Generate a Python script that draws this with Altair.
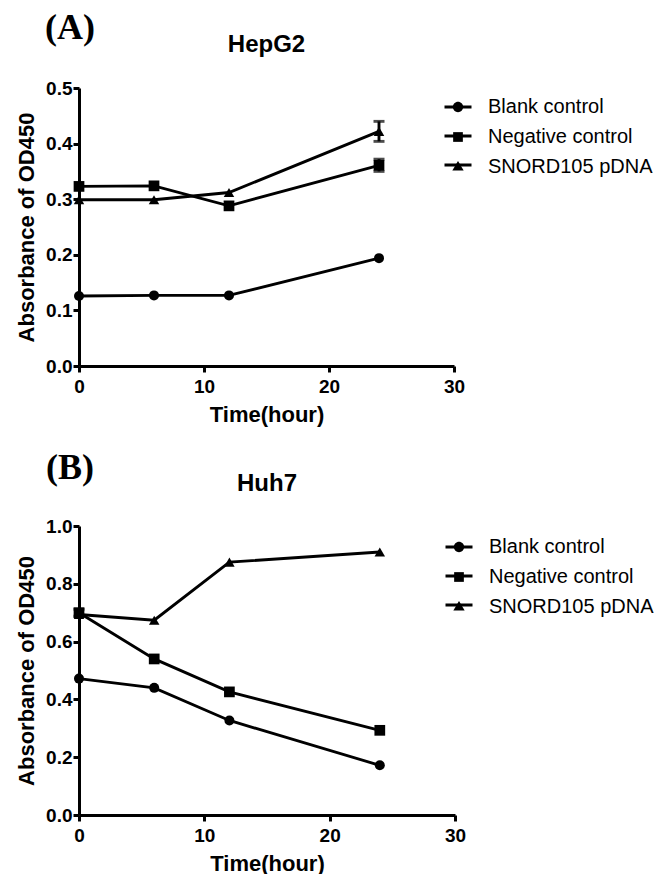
import altair as alt
import pandas as pd

times = [0, 6, 12, 24]
series = ["Blank control", "Negative control", "SNORD105 pDNA"]

# Panel A: HepG2
hep_blank = [0.126, 0.127, 0.127, 0.194]
hep_neg = [0.323, 0.324, 0.288, 0.361]
hep_snord = [0.299, 0.299, 0.312, 0.422]
hep_blank_err = [0.0, 0.0, 0.0, 0.0]
hep_neg_err = [0.0, 0.0, 0.0, 0.011]
hep_snord_err = [0.0, 0.0, 0.0, 0.018]

# Panel B: Huh7
huh_blank = [0.472, 0.440, 0.327, 0.172]
huh_neg = [0.700, 0.540, 0.426, 0.293]
huh_snord = [0.694, 0.674, 0.875, 0.910]
huh_blank_err = [0.0, 0.0, 0.0, 0.0]
huh_neg_err = [0.012, 0.0, 0.0, 0.0]
huh_snord_err = [0.0, 0.0, 0.0, 0.0]

x_ticks = [0, 10, 20, 30]
hep_y_ticks = [0.0, 0.1, 0.2, 0.3, 0.4, 0.5]
huh_y_ticks = [0.0, 0.2, 0.4, 0.6, 0.8, 1.0]

SANS = "Liberation Sans, Arial, sans-serif"
SERIF = "Liberation Serif, Times New Roman, serif"

plot_shapes = ["circle", "square", "triangle-up"]
plot_sizes = [100, 115, 110]
legend_shapes = [
    "M0.38,0A0.38,0.38,0,1,1,-0.38,0A0.38,0.38,0,1,1,0.38,0Z",
    "M-0.36,-0.36H0.36V0.36H-0.36Z",
    "M0,-0.44L0.42,0.26H-0.42Z",
]
# keys of the line-only legend (kept distinct so it is not merged with the shape legend)
line_keys = [s + " " for s in series]

LW = 2.9


def make_df(vals, errs):
    rows = []
    for s, v, e in zip(series, vals, errs):
        for t, y, err in zip(times, v, e):
            rows.append({"time": t, "series": s, "value": y, "err": err,
                         "lo": y - err, "hi": y + err})
    return pd.DataFrame(rows)


def legend_props(w, leg_y, **extra):
    props = dict(
        title=None, orient="none", legendX=w - 11, legendY=leg_y,
        symbolSize=729, symbolStrokeWidth=LW, symbolFillColor="black",
        symbolStrokeColor="black", symbolOpacity=1, labelFont=SANS, labelFontSize=20,
        labelColor="black", labelOffset=15, rowPadding=4, padding=0,
        labelFontWeight="normal", labelLimit=0,
    )
    props.update(extra)
    return alt.Legend(**props)


def panel(df, title, letter, y_max, y_ticks, w, h, leg_y, title_y, letter_y):
    base = alt.Chart(df)
    xs = alt.Scale(domain=[0, 30], nice=False, zero=False)
    ys = alt.Scale(domain=[0, y_max], nice=False)
    x_axis = alt.Axis(values=x_ticks, title="Time(hour)", format="d",
                      labelPadding=5, titlePadding=8)
    y_axis = alt.Axis(values=y_ticks, title="Absorbance of OD450", format=".1f",
                      labelPadding=1, titlePadding=7)

    lines = base.mark_line(color="black", strokeWidth=LW).encode(
        x=alt.X("time:Q", scale=xs, axis=x_axis),
        y=alt.Y("value:Q", scale=ys, axis=y_axis),
        detail="series:N",
    )
    pts_layers = []
    for s, shp, sz in zip(series, plot_shapes, plot_sizes):
        pts_layers.append(
            base.transform_filter(alt.datum.series == s).mark_point(
                filled=True, color="black", opacity=1, shape=shp, size=sz
            ).encode(x="time:Q", y="value:Q")
        )
    eb = base.transform_filter("datum.err > 0")
    err_rule = eb.mark_rule(color="black", strokeWidth=LW).encode(
        x="time:Q", y="lo:Q", y2="hi:Q")
    cap_hi = eb.mark_tick(color="black", orient="horizontal", size=11, thickness=LW).encode(
        x="time:Q", y="hi:Q")
    cap_lo = eb.mark_tick(color="black", orient="horizontal", size=11, thickness=LW).encode(
        x="time:Q", y="lo:Q")
    empty = base.transform_filter("datum.time < 0").transform_calculate(
        series_line="datum.series + ' '")
    leg_line = empty.mark_line(color="black", strokeWidth=LW).encode(
        x="time:Q",
        y="value:Q",
        strokeDash=alt.StrokeDash(
            "series_line:N",
            scale=alt.Scale(domain=line_keys, range=[[1, 0], [1, 0], [1, 0]]),
            legend=legend_props(w, leg_y, labelOpacity=0, symbolType="stroke"),
        ),
    )
    leg_shape = empty.mark_point(filled=True, color="black", opacity=1).encode(
        x="time:Q",
        y="value:Q",
        shape=alt.Shape(
            "series:N",
            scale=alt.Scale(domain=series, range=legend_shapes),
            legend=legend_props(w, leg_y),
        ),
    )
    letter_df = pd.DataFrame({"label": [letter]})
    let = alt.Chart(letter_df).mark_text(
        font=SERIF, fontSize=36, fontWeight="bold", color="black",
        baseline="middle", align="center",
    ).encode(text="label:N", x=alt.value(-9), y=alt.value(letter_y))
    title_df = pd.DataFrame({"label": [title]})
    ttl = alt.Chart(title_df).mark_text(
        font=SANS, fontSize=24, fontWeight="bold", color="black",
        baseline="alphabetic", align="center",
    ).encode(text="label:N", x=alt.value(w / 2), y=alt.value(title_y))

    return alt.layer(lines, err_rule, cap_hi, cap_lo, *pts_layers, leg_line, leg_shape,
                     let, ttl).properties(width=w, height=h)


pA = panel(make_df([hep_blank, hep_neg, hep_snord], [hep_blank_err, hep_neg_err, hep_snord_err]),
           "HepG2", "(A)", 0.5, hep_y_ticks, 375, 278, 4, -36, -60)
pB = panel(make_df([huh_blank, huh_neg, huh_snord], [huh_blank_err, huh_neg_err, huh_snord_err]),
           "Huh7", "(B)", 1.0, huh_y_ticks, 376, 289, 6, -35, -58)

chart = alt.vconcat(pA, pB, spacing=25).resolve_scale(
    shape="independent", strokeDash="independent"
).resolve_legend(
    shape="independent", strokeDash="independent"
).properties(
    padding={"left": 7, "top": 2, "right": 0, "bottom": 0}
).configure_view(stroke=None).configure_axis(
    domainColor="black", domainWidth=3, tickColor="black", tickWidth=3, tickSize=6,
    labelFont=SANS, labelFontSize=19, labelFontWeight="bold", labelColor="black",
    titleFont=SANS, titleFontSize=22, titleFontWeight="bold",
    titleColor="black", grid=False, labelFlush=False,
)

chart.save("out.html", embed_options={"renderer": "svg", "actions": False})
